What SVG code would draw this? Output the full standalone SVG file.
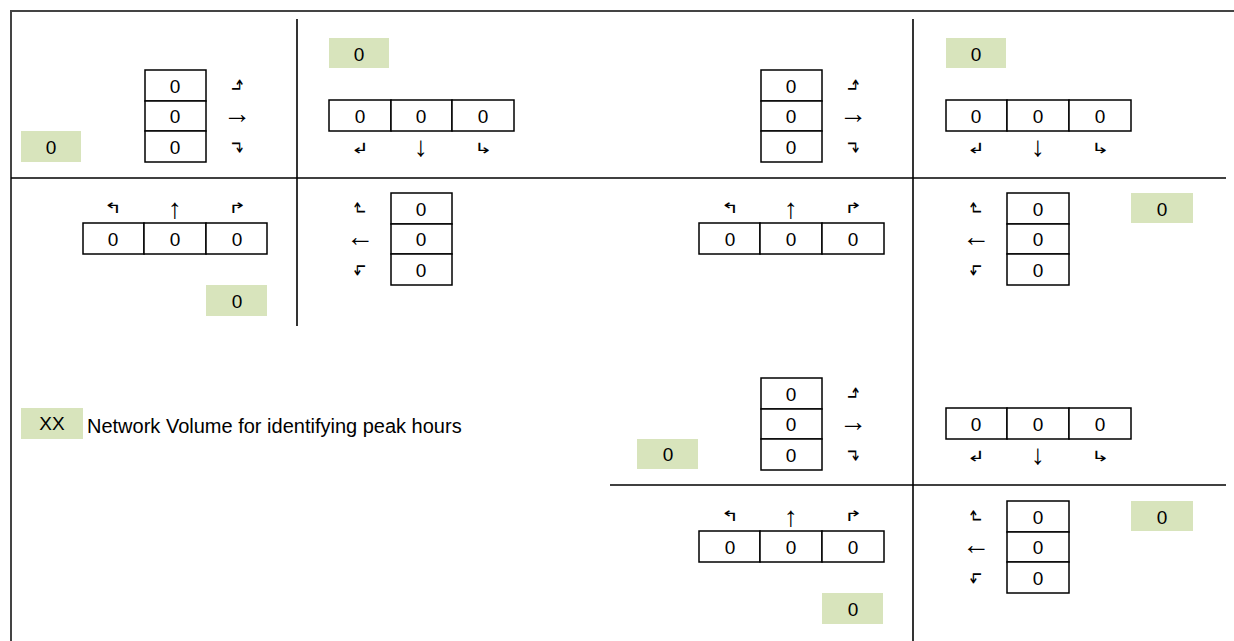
<svg xmlns="http://www.w3.org/2000/svg" width="1234" height="641" viewBox="0 0 1234 641">
<style>
.cell{fill:#fff;stroke:#000;stroke-width:1.5}
.vol{fill:#d8e4bc}
.t{font-family:"Liberation Sans",Arial,sans-serif;font-size:19px;fill:#000;text-anchor:middle;dominant-baseline:central}
.a{font-family:"DejaVu Sans","Liberation Sans",sans-serif;font-size:16px;fill:#000;text-anchor:middle;dominant-baseline:central}
.s{font-family:"Liberation Sans","DejaVu Sans",sans-serif;font-size:28px;fill:#000;text-anchor:middle;dominant-baseline:central}
.grid{stroke:#000;stroke-width:1.6;fill:none}
.border{stroke:#444;stroke-width:2;fill:none}
.lg{font-family:"Liberation Sans",Arial,sans-serif;font-size:20px;fill:#000;dominant-baseline:central}
</style>
<rect width="1234" height="641" fill="#fff"/>
<g id="connectors">
<path class="border" d="M11,641 V11 H1234"/>
<path class="grid" d="M297,19 V326"/>
<path class="grid" d="M11,178 H1226"/>
<path class="grid" d="M913,19 V641"/>
<path class="grid" d="M610,485 H1226"/>
</g>
<g id="int1">
<g id="int1-west">
<rect class="vol" x="21" y="131" width="60" height="31"/><text class="t" x="51" y="147">0</text>
<rect class="cell" x="145" y="70" width="61" height="31"/><text class="t" x="175" y="86">0</text>
<rect class="cell" x="145" y="101" width="61" height="30"/><text class="t" x="175" y="116">0</text>
<rect class="cell" x="145" y="131" width="61" height="31"/><text class="t" x="175" y="147">0</text>
<text class="a" transform="translate(237,85) rotate(90) scale(1.4,0.9)">↰</text><text class="s" x="237" y="113">→</text><text class="a" transform="translate(237,147) rotate(90) scale(1.4,0.9)">↱</text>
</g>
<g id="int1-north">
<rect class="vol" x="329" y="38" width="60" height="30"/><text class="t" x="359" y="54">0</text>
<rect class="cell" x="329" y="100" width="62" height="31"/><text class="t" x="360" y="116">0</text>
<rect class="cell" x="391" y="100" width="61" height="31"/><text class="t" x="421" y="116">0</text>
<rect class="cell" x="452" y="100" width="62" height="31"/><text class="t" x="483" y="116">0</text>
<text class="a" transform="translate(360,148) scale(1.4,0.9)">↲</text><text class="s" x="421" y="146">↓</text><text class="a" transform="translate(483,148) scale(1.4,0.9)">↳</text>
</g>
<g id="int1-south">
<text class="a" transform="translate(113,208) scale(1.4,0.9)">↰</text><text class="s" x="175" y="208">↑</text><text class="a" transform="translate(237,208) scale(1.4,0.9)">↱</text>
<rect class="cell" x="83" y="223" width="61" height="31"/><text class="t" x="113" y="239">0</text>
<rect class="cell" x="144" y="223" width="62" height="31"/><text class="t" x="175" y="239">0</text>
<rect class="cell" x="206" y="223" width="61" height="31"/><text class="t" x="237" y="239">0</text>
<rect class="vol" x="206" y="285" width="61" height="31"/><text class="t" x="237" y="301">0</text>
</g>
<g id="int1-east">
<text class="a" transform="translate(360,208) rotate(-90) scale(1.4,0.9)">↱</text><text class="s" x="360" y="236">←</text><text class="a" transform="translate(360,270) rotate(-90) scale(1.4,0.9)">↰</text>
<rect class="cell" x="391" y="193" width="61" height="31"/><text class="t" x="421" y="209">0</text>
<rect class="cell" x="391" y="224" width="61" height="30"/><text class="t" x="421" y="239">0</text>
<rect class="cell" x="391" y="254" width="61" height="31"/><text class="t" x="421" y="270">0</text>
</g>
</g>
<g id="int2" transform="translate(616,0)">
<g id="int2-west">
<rect class="cell" x="145" y="70" width="61" height="31"/><text class="t" x="175" y="86">0</text>
<rect class="cell" x="145" y="101" width="61" height="30"/><text class="t" x="175" y="116">0</text>
<rect class="cell" x="145" y="131" width="61" height="31"/><text class="t" x="175" y="147">0</text>
<text class="a" transform="translate(237,85) rotate(90) scale(1.4,0.9)">↰</text><text class="s" x="237" y="113">→</text><text class="a" transform="translate(237,147) rotate(90) scale(1.4,0.9)">↱</text>
</g>
<g id="int2-north">
<rect class="vol" x="330" y="38" width="60" height="30"/><text class="t" x="360" y="54">0</text>
<rect class="cell" x="330" y="100" width="61" height="31"/><text class="t" x="360" y="116">0</text>
<rect class="cell" x="391" y="100" width="62" height="31"/><text class="t" x="422" y="116">0</text>
<rect class="cell" x="453" y="100" width="62" height="31"/><text class="t" x="484" y="116">0</text>
<text class="a" transform="translate(360,148) scale(1.4,0.9)">↲</text><text class="s" x="422" y="146">↓</text><text class="a" transform="translate(484,148) scale(1.4,0.9)">↳</text>
</g>
<g id="int2-south">
<text class="a" transform="translate(114,208) scale(1.4,0.9)">↰</text><text class="s" x="175" y="208">↑</text><text class="a" transform="translate(237,208) scale(1.4,0.9)">↱</text>
<rect class="cell" x="83" y="223" width="61" height="31"/><text class="t" x="114" y="239">0</text>
<rect class="cell" x="144" y="223" width="62" height="31"/><text class="t" x="175" y="239">0</text>
<rect class="cell" x="206" y="223" width="62" height="31"/><text class="t" x="237" y="239">0</text>
</g>
<g id="int2-east">
<text class="a" transform="translate(360,208) rotate(-90) scale(1.4,0.9)">↱</text><text class="s" x="360" y="236">←</text><text class="a" transform="translate(360,270) rotate(-90) scale(1.4,0.9)">↰</text>
<rect class="cell" x="391" y="193" width="62" height="31"/><text class="t" x="422" y="209">0</text>
<rect class="cell" x="391" y="224" width="62" height="30"/><text class="t" x="422" y="239">0</text>
<rect class="cell" x="391" y="254" width="62" height="31"/><text class="t" x="422" y="270">0</text>
<rect class="vol" x="515" y="193" width="62" height="30"/><text class="t" x="546" y="209">0</text>
</g>
</g>
<g id="int3" transform="translate(616,308)">
<g id="int3-west">
<rect class="vol" x="21" y="131" width="61" height="30"/><text class="t" x="52" y="146">0</text>
<rect class="cell" x="145" y="70" width="61" height="31"/><text class="t" x="175" y="86">0</text>
<rect class="cell" x="145" y="101" width="61" height="30"/><text class="t" x="175" y="116">0</text>
<rect class="cell" x="145" y="131" width="61" height="31"/><text class="t" x="175" y="147">0</text>
<text class="a" transform="translate(237,85) rotate(90) scale(1.4,0.9)">↰</text><text class="s" x="237" y="113">→</text><text class="a" transform="translate(237,147) rotate(90) scale(1.4,0.9)">↱</text>
</g>
<g id="int3-north">
<rect class="cell" x="330" y="100" width="61" height="31"/><text class="t" x="360" y="116">0</text>
<rect class="cell" x="391" y="100" width="62" height="31"/><text class="t" x="422" y="116">0</text>
<rect class="cell" x="453" y="100" width="62" height="31"/><text class="t" x="484" y="116">0</text>
<text class="a" transform="translate(360,148) scale(1.4,0.9)">↲</text><text class="s" x="422" y="146">↓</text><text class="a" transform="translate(484,148) scale(1.4,0.9)">↳</text>
</g>
<g id="int3-south">
<text class="a" transform="translate(114,208) scale(1.4,0.9)">↰</text><text class="s" x="175" y="208">↑</text><text class="a" transform="translate(237,208) scale(1.4,0.9)">↱</text>
<rect class="cell" x="83" y="223" width="61" height="31"/><text class="t" x="114" y="239">0</text>
<rect class="cell" x="144" y="223" width="62" height="31"/><text class="t" x="175" y="239">0</text>
<rect class="cell" x="206" y="223" width="62" height="31"/><text class="t" x="237" y="239">0</text>
<rect class="vol" x="206" y="285" width="61" height="31"/><text class="t" x="237" y="301">0</text>
</g>
<g id="int3-east">
<text class="a" transform="translate(360,208) rotate(-90) scale(1.4,0.9)">↱</text><text class="s" x="360" y="236">←</text><text class="a" transform="translate(360,270) rotate(-90) scale(1.4,0.9)">↰</text>
<rect class="cell" x="391" y="193" width="62" height="31"/><text class="t" x="422" y="209">0</text>
<rect class="cell" x="391" y="224" width="62" height="30"/><text class="t" x="422" y="239">0</text>
<rect class="cell" x="391" y="254" width="62" height="31"/><text class="t" x="422" y="270">0</text>
<rect class="vol" x="515" y="193" width="62" height="30"/><text class="t" x="546" y="209">0</text>
</g>
</g>
<g id="legend">
<rect class="vol" x="21" y="408" width="62" height="31"/><text class="t" x="52" y="423">XX</text>
<text class="lg" x="87" y="426">Network Volume for identifying peak hours</text>
</g>
</svg>
